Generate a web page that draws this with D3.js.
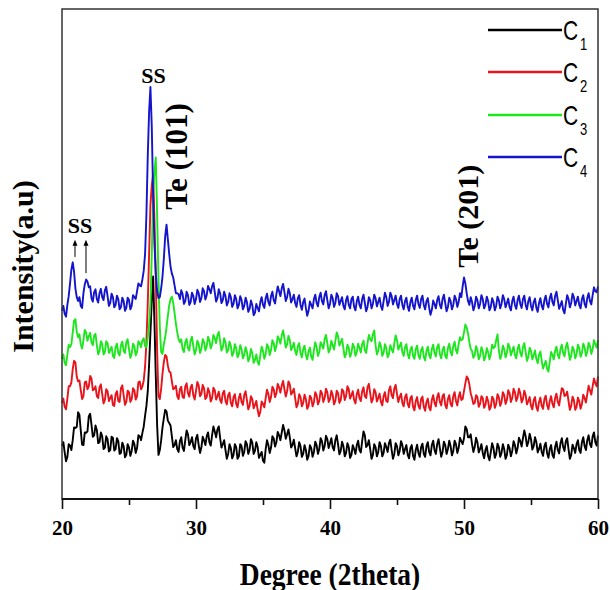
<!DOCTYPE html>
<html><head><meta charset="utf-8">
<script src="https://cdn.jsdelivr.net/npm/d3@7"></script>
<style>html,body{margin:0;padding:0;background:#fff;} svg{display:block}</style>
</head><body>
<svg id="chart" width="610" height="590"></svg>
<script>
// ---------------- DATA ----------------
const seriesNames = ["C", "C", "C", "C"];
const seriesSubs = ["1", "2", "3", "4"];
const seriesColors = ["#000000", "#e8141c", "#1ee61e", "#1414cc"];
const twoThetaStart = 20, twoThetaStep = 0.1;   // sampling of the 2theta axis
const xTicks = [20, 30, 40, 50, 60];
const xMinorTicks = [25, 35, 45, 55];

// one row = 2 degrees (20 samples)
const c1 = [
 10.8,11.6, 9.5,7.7, 8.6,11.2, 10.9,10.0, 12.0,14.6, 14.5,14.7, 17.7,17.2, 14.0,11.1, 11.0,13.6, 13.5,13.8,
 16.9,17.4, 15.2,12.7, 13.0,15.0, 14.1,11.4, 11.6,13.6, 12.8,10.2, 10.5,12.8, 12.2,9.7, 10.0,12.7, 12.5,9.9,
 10.2,12.4, 11.8,9.2, 9.4,11.5, 10.8,8.5, 9.0,11.2, 10.5,8.8, 9.8,11.9, 11.2,9.4, 10.4,13.0, 12.8,12.0,
 13.5,14.8, 17.0,19.0, 22.0,27.5, 34.0,40.5, 45.4,36.0, 25.0,15.0, 9.0,10.0, 12.0,14.6, 16.5,18.2, 17.9,16.0,
 15.5,15.0, 12.8,10.6, 11.0,12.0, 10.2,9.6, 11.8,12.6, 10.5,9.8, 12.0,14.0, 13.2,11.0, 11.6,12.6, 10.8,10.2,
 12.4,13.1, 11.0,9.4, 10.5,12.7, 12.0,11.0, 12.8,13.6, 11.6,10.9, 13.0,14.8, 13.8,12.6, 14.2,14.8, 12.5,10.5,
 11.2,12.0, 10.0,8.2, 9.2,11.2, 10.4,8.3, 9.0,11.2, 10.6,8.2, 8.7,11.2, 10.8,8.8, 9.6,11.8, 11.2,9.2,
 10.0,12.2, 11.5,9.2, 9.8,11.6, 10.6,8.4, 9.0,9.6, 7.8,7.4, 10.2,12.0, 11.0,9.4, 10.5,12.8, 12.4,10.7,
 11.6,13.7, 13.0,12.0, 13.6,15.1, 14.0,12.3, 13.2,14.2, 12.6,10.5, 11.0,12.1, 10.4,8.7, 9.6,11.6, 10.8,8.6,
 9.2,11.0, 10.0,8.0, 8.8,11.0, 10.4,8.6, 9.6,11.7, 11.0,9.2, 10.2,12.4, 11.8,9.9, 10.8,12.9, 12.2,10.4,
 11.4,12.4, 10.6,9.9, 12.0,13.0, 11.2,9.1, 9.8,11.7, 10.8,8.7, 9.4,11.4, 10.6,8.4, 9.0,11.0, 10.2,9.2,
 11.0,11.9, 10.0,9.5, 11.8,13.8, 13.0,10.6, 11.0,12.0, 10.2,8.2, 9.0,11.2, 10.6,8.7, 9.6,11.6, 10.8,8.7,
 9.4,11.4, 10.6,9.6, 11.4,12.1, 10.0,8.2, 9.2,11.4, 10.8,8.9, 9.8,11.8, 11.0,9.2, 10.2,11.0, 9.0,8.3,
 10.4,11.0, 8.8,8.0, 10.0,11.1, 9.4,8.6, 10.6,11.3, 9.2,8.6, 10.8,11.6, 9.6,8.9, 11.0,11.9, 10.0,9.2,
 11.2,12.2, 10.4,8.6, 9.6,11.7, 11.0,9.2, 10.2,11.9, 10.8,8.9, 9.8,11.9, 11.2,9.4, 10.4,12.5, 11.8,11.2,
 12.4,14.8, 14.3,12.6, 12.6,13.2, 11.2,9.6, 10.6,12.5, 11.6,9.5, 10.2,11.2, 9.4,8.3, 10.0,10.8, 8.8,7.9,
 9.6,11.4, 10.4,8.4, 9.2,11.3, 10.6,8.6, 9.4,11.2, 10.2,8.2, 9.0,11.1, 10.4,8.7, 9.8,11.8, 11.0,9.3,
 10.4,12.5, 11.8,10.7, 12.4,14.0, 12.8,10.8, 11.6,13.3, 12.2,10.1, 10.8,12.6, 11.6,9.5, 10.2,11.3, 9.6,8.8,
 10.8,11.5, 9.4,8.4, 10.2,11.0, 9.0,8.4, 10.6,11.7, 10.0,9.3, 11.4,12.4, 10.6,9.8, 11.8,12.4, 10.2,8.2,
 9.0,11.1, 10.4,9.4, 11.2,12.0, 10.0,9.4, 11.6,12.6, 10.8,10.0, 12.0,13.0, 11.2,10.6, 12.8,13.6, 11.6,10.9,
 13.0
];
const c2 = [
 19.6,20.5, 18.8,18.3, 20.5,23.0, 23.0,23.8, 26.5,28.2, 27.9,25.0, 24.0,24.2, 22.2,20.4, 21.0,23.8, 24.0,22.4,
 23.0,25.1, 24.6,22.2, 22.4,23.0, 21.0,20.6, 22.8,23.4, 21.4,19.5, 20.2,22.4, 22.0,20.0, 20.6,21.2, 19.2,19.0,
 21.4,22.0, 20.0,19.8, 22.6,23.2, 21.2,19.2, 19.8,22.1, 21.8,19.8, 20.4,22.6, 22.2,20.3, 21.0,23.8, 24.0,22.4,
 23.0,24.2, 27.0,32.0, 40.0,50.0, 60.0,64.0, 66.2,57.0, 45.0,30.0, 21.0,20.4, 22.5,25.6, 28.0,29.4, 29.1,27.2,
 26.0,25.8, 24.0,22.4, 22.6,23.1, 21.0,20.4, 22.4,22.9, 20.8,20.6, 23.0,23.6, 21.6,20.9, 22.8,23.3, 21.2,20.3,
 22.0,23.9, 23.2,21.0, 21.4,23.3, 22.6,20.4, 20.8,22.6, 21.8,19.9, 20.6,22.7, 22.2,20.3, 21.0,21.9, 20.2,19.6,
 21.6,22.1, 20.0,19.3, 21.2,21.7, 19.6,18.9, 20.8,21.4, 19.4,18.7, 20.6,21.5, 19.8,19.2, 21.2,22.0, 20.2,18.3,
 19.0,21.0, 20.4,18.5, 19.2,20.0, 18.2,16.9, 17.8,19.9, 19.4,18.7, 20.6,22.3, 21.4,19.8, 20.8,22.9, 22.4,20.8,
 21.6,23.5, 22.8,21.7, 23.2,24.1, 22.4,20.9, 22.0,24.0, 23.4,21.3, 21.8,22.5, 20.6,18.7, 19.4,21.4, 20.8,18.9,
 19.6,21.3, 20.4,18.4, 19.0,21.1, 20.6,18.9, 19.8,21.8, 21.2,19.3, 20.0,22.1, 21.6,19.8, 20.6,22.5, 21.8,19.8,
 20.4,22.1, 21.2,19.3, 20.0,22.1, 21.6,19.6, 20.2,22.4, 22.0,20.2, 21.0,23.0, 22.4,20.5, 21.2,22.0, 20.2,19.5,
 21.4,22.3, 20.6,20.0, 22.0,22.8, 21.0,20.6, 22.8,23.5, 21.6,19.7, 20.4,22.4, 21.8,19.9, 20.6,21.5, 19.8,19.1,
 21.0,21.8, 20.0,19.8, 22.2,23.0, 21.2,20.6, 22.6,23.3, 21.4,19.8, 20.8,21.5, 19.6,18.9, 20.8,21.4, 19.4,18.7,
 20.6,21.0, 18.8,18.1, 20.0,20.8, 19.0,18.4, 20.4,20.9, 18.8,18.0, 19.8,20.5, 18.6,18.1, 20.2,21.2, 19.6,18.9,
 20.8,21.6, 19.8,19.1, 21.0,21.4, 19.2,18.5, 20.4,21.2, 19.4,18.9, 21.0,21.8, 20.0,19.1, 20.8,21.8, 20.2,20.4,
 22.0,23.6, 25.0,24.6, 23.4,21.6, 20.6,19.4, 19.6,21.2, 20.8,18.8, 19.4,21.0, 20.6,18.6, 19.2,20.9, 20.0,18.2,
 18.8,20.9, 20.4,18.6, 19.4,21.4, 20.8,19.0, 19.8,21.8, 21.2,19.4, 20.2,22.2, 21.6,19.8, 20.6,22.5, 21.8,20.0,
 20.8,22.5, 21.6,19.7, 20.4,22.1, 21.2,19.3, 20.0,20.8, 19.0,18.3, 20.2,20.8, 18.8,18.0, 19.8,20.7, 19.0,18.4,
 20.4,21.1, 19.2,18.3, 20.0,21.0, 19.4,18.7, 20.6,21.5, 19.8,19.1, 21.0,22.6, 22.4,21.0, 21.2,21.9, 20.0,18.2,
 19.0,20.9, 20.2,18.2, 18.8,20.7, 20.0,18.4, 19.4,21.3, 20.6,19.7, 21.4,23.1, 22.2,21.3, 23.0,24.6, 23.6,23.0,
 25.0
];
const c3 = [
 28.6,29.5, 27.8,27.3, 29.4,31.5, 31.0,31.6, 34.0,36.4, 36.7,34.2, 33.0,33.6, 31.6,30.7, 32.4,34.5, 34.0,32.3,
 33.2,33.9, 32.0,31.4, 33.4,33.7, 31.4,29.5, 30.2,32.2, 31.6,29.5, 30.0,32.2, 31.8,29.8, 30.4,31.1, 29.2,28.8,
 31.0,31.7, 29.8,29.3, 31.4,32.1, 30.2,29.8, 32.0,32.6, 30.6,28.8, 29.6,31.7, 31.2,29.3, 30.0,32.2, 31.8,31.0,
 32.4,32.8, 31.2,31.0, 33.0,35.5, 40.0,50.0, 62.0,67.0, 69.7,58.0, 45.0,35.0, 30.0,29.6, 31.6,33.0, 35.0,37.4,
 39.5,40.8, 41.3,40.0, 38.0,35.8, 34.0,32.6, 32.0,32.6, 30.6,30.0, 32.0,32.7, 30.8,30.3, 32.4,33.1, 31.2,29.5,
 30.4,32.3, 31.6,29.8, 30.6,32.6, 32.0,30.3, 31.2,33.1, 32.4,30.7, 31.6,33.5, 32.8,31.8, 33.4,34.1, 32.2,30.3,
 31.0,32.8, 32.0,29.9, 30.4,32.1, 31.2,29.2, 29.8,31.6, 30.8,28.9, 29.6,31.4, 30.6,28.7, 29.4,31.0, 30.0,28.1,
 28.8,30.6, 29.8,27.8, 28.4,29.5, 28.0,27.4, 29.4,31.1, 30.2,28.6, 29.6,31.6, 31.0,29.4, 30.4,32.4, 31.8,30.2,
 31.2,33.2, 32.6,31.7, 33.4,34.4, 32.8,30.9, 31.6,33.3, 32.4,30.4, 31.0,31.9, 30.2,29.4, 31.2,31.8, 29.8,28.9,
 30.6,31.3, 29.4,28.5, 30.2,30.9, 29.0,28.4, 30.4,32.0, 31.0,29.2, 30.0,32.0, 31.4,30.7, 32.6,33.5, 31.8,29.9,
 30.6,32.3, 31.4,30.5, 32.2,34.0, 33.2,31.3, 32.0,32.7, 30.8,28.9, 29.6,31.5, 30.8,29.0, 29.8,31.7, 31.0,29.2,
 30.0,31.7, 30.8,29.9, 31.6,32.3, 30.4,29.8, 31.8,33.5, 32.6,32.2, 33.6,34.4, 31.4,29.5, 30.2,32.0, 31.2,29.2,
 29.8,31.6, 30.8,28.9, 29.6,31.4, 30.6,29.9, 31.8,33.4, 32.4,30.5, 31.2,31.9, 30.0,29.2, 31.0,31.6, 29.6,28.7,
 30.4,31.1, 29.2,28.6, 30.6,31.3, 29.4,28.6, 30.4,31.0, 29.0,28.3, 30.2,31.1, 29.4,28.7, 30.6,31.5, 29.8,29.1,
 31.0,31.6, 29.6,28.7, 30.4,31.1, 29.2,28.7, 30.8,31.7, 30.0,29.3, 31.2,32.1, 30.4,29.7, 31.6,33.0, 32.4,32.6,
 34.0,35.6, 35.0,33.8, 32.0,30.6, 30.2,28.8, 29.4,31.2, 30.4,28.5, 29.2,31.0, 30.2,28.3, 29.0,30.8, 30.0,28.5,
 29.6,31.5, 30.8,31.0, 32.4,33.6, 30.4,28.6, 29.4,31.3, 30.6,28.9, 29.8,31.7, 31.0,29.3, 30.2,31.1, 29.4,28.7,
 30.6,31.5, 29.8,29.1, 31.0,31.8, 30.0,28.2, 29.0,30.9, 30.2,28.5, 29.4,30.3, 28.6,27.7, 29.4,30.1, 28.2,26.6,
 27.4,28.2, 26.6,26.0, 28.0,30.0, 29.4,28.5, 30.2,31.1, 29.4,28.7, 30.6,31.5, 29.8,29.1, 31.0,31.9, 30.2,28.4,
 29.2,31.1, 30.4,28.7, 29.6,31.5, 30.8,29.0, 29.8,31.7, 31.0,29.2, 30.0,31.9, 31.2,29.6, 30.6,32.4, 31.6,30.9,
 32.4
];
const c4 = [
 38.4,39.4, 37.8,37.2, 39.6,41.4, 44.0,46.8, 48.3,46.4, 43.0,41.2, 40.4,41.2, 39.4,39.0, 42.0,43.8, 44.8,44.4,
 43.2,43.4, 41.0,40.3, 42.2,42.8, 40.8,40.1, 42.0,42.9, 41.2,40.6, 42.6,43.3, 41.4,39.4, 40.0,41.9, 41.2,39.1,
 39.6,41.5, 40.8,38.7, 39.2,41.1, 40.4,38.4, 39.0,41.1, 40.6,38.7, 39.4,41.6, 41.2,40.8, 42.4,44.0, 43.6,43.4,
 44.8,46.6, 50.0,58.0, 70.0,79.0, 84.1,76.0, 62.0,52.0, 46.0,42.4, 41.0,41.2, 43.0,45.4, 49.0,53.6, 56.0,53.0,
 50.0,47.4, 46.0,45.2, 43.6,42.0, 42.0,41.8, 40.8,42.6, 41.8,39.8, 40.4,42.3, 41.6,39.6, 40.2,42.1, 41.4,39.8,
 40.8,42.7, 42.0,40.2, 41.0,43.0, 42.4,40.7, 41.6,43.5, 42.8,42.0, 43.4,44.1, 42.2,40.3, 41.0,42.8, 42.0,40.0,
 40.6,42.3, 41.4,39.5, 40.2,42.0, 41.2,39.2, 39.8,41.6, 40.8,38.9, 39.6,41.4, 40.6,38.7, 39.4,41.1, 40.2,38.2,
 38.8,40.5, 39.6,37.5, 38.0,39.8, 39.0,38.3, 40.2,41.2, 39.6,39.0, 41.0,41.9, 40.2,39.5, 41.4,42.3, 40.6,39.9,
 41.8,43.4, 42.4,41.4, 43.0,43.9, 42.2,40.4, 41.2,42.9, 42.0,40.1, 40.8,41.7, 40.0,39.2, 41.0,41.6, 39.6,38.6,
 40.2,40.9, 39.0,37.4, 38.4,40.3, 39.6,38.9, 40.8,41.7, 40.0,39.3, 41.2,42.1, 40.4,39.7, 41.6,42.4, 40.6,38.9,
 39.8,41.7, 41.0,39.2, 40.0,42.0, 41.4,39.6, 40.4,41.2, 39.4,38.7, 40.6,41.4, 39.6,38.9, 40.8,41.3, 39.2,38.5,
 40.4,41.3, 39.6,38.9, 40.8,41.7, 40.0,38.3, 39.2,41.2, 40.6,38.9, 39.8,41.7, 41.0,39.3, 40.2,41.1, 39.4,38.6,
 40.4,42.1, 41.2,39.4, 40.2,42.1, 41.4,39.7, 40.6,41.5, 39.8,39.0, 40.8,41.5, 39.6,38.7, 40.4,41.1, 39.2,38.4,
 40.2,41.1, 39.4,38.7, 40.6,41.5, 39.8,39.0, 40.8,41.5, 39.6,38.7, 40.4,41.0, 39.0,37.6, 38.6,40.5, 39.8,38.9,
 40.6,41.4, 39.6,38.9, 40.8,41.7, 40.0,38.3, 39.2,41.1, 40.4,38.7, 39.6,41.5, 40.8,39.2, 40.2,42.0, 41.2,43.4,
 45.2,44.0, 42.0,40.4, 39.6,41.2, 40.2,38.5, 39.4,41.3, 40.6,38.9, 39.8,41.6, 40.8,38.9, 39.6,41.3, 40.4,38.5,
 39.2,41.0, 40.2,38.5, 39.4,41.3, 40.6,38.9, 39.8,41.6, 40.8,39.1, 40.0,40.9, 39.2,38.5, 40.4,41.3, 39.6,38.8,
 40.6,41.5, 39.8,39.0, 40.8,41.5, 39.6,38.7, 40.4,41.2, 39.4,38.5, 40.2,40.9, 39.0,38.2, 40.0,41.0, 39.4,38.7,
 40.6,41.5, 39.8,39.1, 41.0,41.9, 40.2,39.5, 41.4,42.3, 40.6,38.8, 39.6,40.4, 38.6,37.9, 39.8,41.6, 40.8,39.1,
 40.0,41.9, 41.2,39.5, 40.4,41.3, 39.6,38.9, 40.8,41.6, 39.8,39.1, 41.0,42.0, 40.4,39.7, 41.6,43.2, 42.4,42.2,
 43.4
];
const seriesValues = [c1, c2, c3, c4];

// annotation labels (data coordinates: 2theta, intensity)
const textNotes = [
  { text: "SS",       x: 26.82, y: 84.9, rotate: false, size: 22 },
  { text: "SS",       x: 21.34, y: 54.3, rotate: false, size: 22 },
  { text: "Te (101)", x: 29.33, y: 69.9, rotate: true,  size: 31 },
  { text: "Te (201)", x: 51.04, y: 57.7, rotate: true,  size: 30 }
];
const arrowNotes = [
  { x: 20.97, y0: 49.4, y1: 52.9 },
  { x: 21.79, y0: 46.1, y1: 52.9 }
];

// ---------------- CHART ----------------
const svg = d3.select("#chart");
const M = { left: 62, right: 598, top: 9, bottom: 499 };
const serif = "'Liberation Serif','Times New Roman',serif";
const sans = "'Liberation Sans',Arial,sans-serif";

const x = d3.scaleLinear().domain([20, 60]).range([M.left, M.right]);
const y = d3.scaleLinear().domain([0, 100]).range([M.bottom, M.top]);

// series lines
const line = d3.line()
  .x((d, i) => x(twoThetaStart + i * twoThetaStep))
  .y(d => y(d));

seriesValues.forEach((vals, k) => {
  svg.append("path")
    .datum(vals)
    .attr("d", line)
    .attr("fill", "none")
    .attr("stroke", seriesColors[k])
    .attr("stroke-width", 1.9)
    .attr("stroke-linejoin", "round");
});

// frame
svg.append("rect")
  .attr("x", M.left).attr("y", M.top)
  .attr("width", M.right - M.left).attr("height", M.bottom - M.top)
  .attr("fill", "none").attr("stroke", "#333").attr("stroke-width", 1.5);
svg.append("line")
  .attr("x1", M.left).attr("x2", M.right).attr("y1", M.bottom).attr("y2", M.bottom)
  .attr("stroke", "#111").attr("stroke-width", 2);

// x axis
const xAxis = svg.append("g").attr("transform", `translate(0,${M.bottom})`)
  .call(d3.axisBottom(x).tickValues(xTicks).tickSize(10).tickPadding(11).tickFormat(d3.format("d")));
xAxis.select(".domain").remove();
xAxis.selectAll(".tick line").attr("stroke", "#111").attr("stroke-width", 1.6);
xAxis.selectAll("text").attr("font-family", serif).attr("font-weight", "bold")
  .attr("font-size", 21).attr("fill", "#000");

const xMinor = svg.append("g").attr("transform", `translate(0,${M.bottom})`)
  .call(d3.axisBottom(x).tickValues(xMinorTicks).tickSize(6).tickFormat(""));
xMinor.select(".domain").remove();
xMinor.selectAll(".tick line").attr("stroke", "#111").attr("stroke-width", 1.6);

// axis titles
svg.append("text")
  .attr("transform", "translate(330,585) scale(1,1.15)")
  .attr("text-anchor", "middle")
  .attr("font-family", serif).attr("font-weight", "bold").attr("font-size", 27.5)
  .text("Degree (2theta)");

svg.append("text")
  .attr("transform", "translate(33,266.5) rotate(-90)")
  .attr("text-anchor", "middle")
  .attr("font-family", serif).attr("font-weight", "bold").attr("font-size", 30)
  .text("Intensity(a.u)");

// annotations
textNotes.forEach(n => {
  const t = svg.append("text")
    .attr("font-family", serif).attr("font-weight", "bold")
    .attr("font-size", n.size).attr("text-anchor", "middle")
    .text(n.text);
  if (n.rotate) t.attr("transform", `translate(${x(n.x)},${y(n.y)}) rotate(-90)`);
  else t.attr("x", x(n.x)).attr("y", y(n.y));
});
arrowNotes.forEach(a => {
  const ax = x(a.x), ay0 = y(a.y0), ay1 = y(a.y1);
  svg.append("line")
    .attr("x1", ax).attr("x2", ax)
    .attr("y1", ay0).attr("y2", ay1 + 4)
    .attr("stroke", "#000").attr("stroke-width", 1);
  svg.append("path")
    .attr("d", `M${ax - 2.5},${ay1 + 6} L${ax},${ay1} L${ax + 2.5},${ay1 + 6} Z`)
    .attr("fill", "#000");
});

// legend
const legendRows = [30, 72, 115, 157];
seriesNames.forEach((nm, k) => {
  const ly = legendRows[k];
  svg.append("line")
    .attr("x1", 488).attr("x2", 562).attr("y1", ly).attr("y2", ly)
    .attr("stroke", seriesColors[k]).attr("stroke-width", 2.5);
  svg.append("text")
    .attr("transform", `translate(563,${ly + 10}) scale(1,1.3)`)
    .attr("font-family", sans).attr("font-size", 21).attr("fill", "#000")
    .text(nm);
  svg.append("text")
    .attr("transform", `translate(580,${ly + 20}) scale(1,1.3)`)
    .attr("font-family", sans).attr("font-size", 13).attr("fill", "#000")
    .text(seriesSubs[k]);
});
</script>
</body></html>
